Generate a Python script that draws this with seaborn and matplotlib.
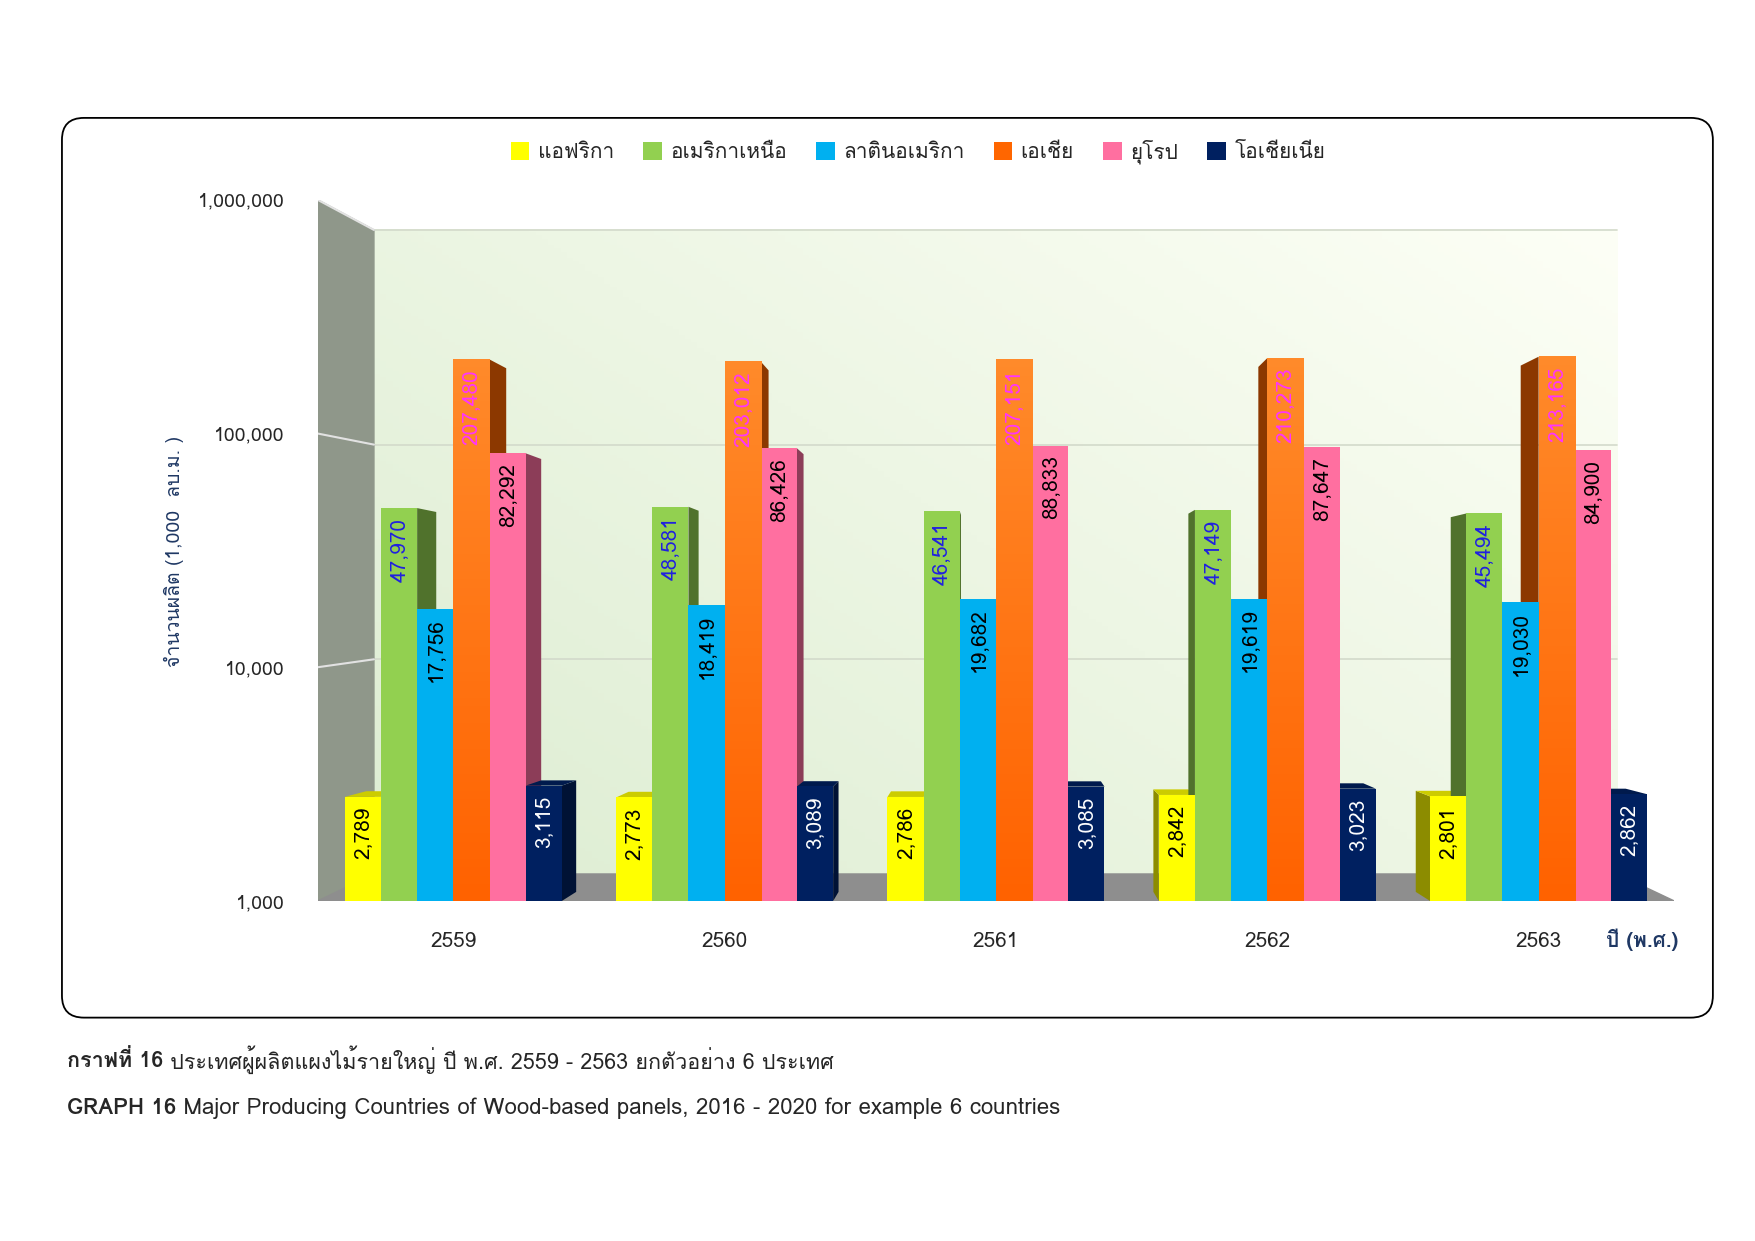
"""Wood-based panel production of six regions, 2559 - 2563 (B.E.), log scale grouped bars."""

import matplotlib

matplotlib.use("Agg")

import matplotlib.pyplot as plt
import numpy as np
import pandas as pd
import seaborn as sns
from matplotlib import font_manager, ft2font
from matplotlib.colors import to_rgb
from matplotlib.patches import FancyBboxPatch, Polygon
from matplotlib.ticker import NullLocator

# --- data -----------------------------------------------------------------
years = ["2559", "2560", "2561", "2562", "2563"]
regions = ["แอฟริกา", "อเมริกาเหนือ", "ลาตินอเมริกา", "เอเชีย", "ยุโรป", "โอเชียเนีย"]
africa = [2789, 2773, 2786, 2842, 2801]
north_america = [47970, 48581, 46541, 47149, 45494]
latin_america = [17756, 18419, 19682, 19619, 19030]
asia = [207480, 203012, 207151, 210273, 213165]
europe = [82292, 86426, 88833, 87647, 84900]
oceania = [3115, 3089, 3085, 3023, 2862]
y_ticks = [1000, 10000, 100000, 1000000]

region_colors = ["#FFFF00", "#92D050", "#00B0F0", "#FF6600", "#FF6FA0", "#002060"]
label_colors = ["black", "#2020E0", "black", "#FF33FF", "black", "white"]
navy = "#1F3864"


def find_thai_font():
    """Return the name of an installed font that has Thai glyphs, if any."""
    for entry in font_manager.fontManager.ttflist:
        try:
            if 0x0E01 in ft2font.FT2Font(entry.fname).get_charmap():
                return entry.name
        except Exception:
            continue
    return None


sns.set_style("white")
thai = find_thai_font()
families = [thai, "DejaVu Sans"] if thai else ["DejaVu Sans"]
plt.rcParams["font.family"] = families

series = [africa, north_america, latin_america, asia, europe, oceania]
df = pd.DataFrame(
    [{"year": y, "region": r, "value": v} for r, vals in zip(regions, series) for y, v in zip(years, vals)]
)

fig = plt.figure(figsize=(17.55, 12.41), dpi=100)
rect = [0.181, 0.274, 0.773, 0.565]

# background "3D" walls drawn on their own axes behind the bars
bg = fig.add_axes(rect, zorder=0)
bg.set_xlim(0, 1)
bg.set_ylim(0, 1)
bg.axis("off")
wx, bx, bb, bt = 0.0415, 0.958, 0.0385, 0.957
gx = np.linspace(0, 1, 200)
gy = np.linspace(0, 1, 200)
gxx, gyy = np.meshgrid(gx, gy)
t = np.clip((gxx * 0.8 + gyy * 0.6) / 1.4, 0, 1)[..., None]
c0 = np.array(to_rgb("#DDEDD2"))
c1 = np.array(to_rgb("#FDFFF6"))
bg.imshow(c0 * (1 - t) + c1 * t, extent=(wx, bx, bb, bt), origin="lower", aspect="auto", zorder=0)
bg.add_patch(Polygon([(0, 0), (0, 1), (wx, bt), (wx, bb)], color="#8F978A", zorder=1))
bg.add_patch(Polygon([(0, 0), (wx, bb), (bx, bb), (1, 0)], color="#8E8E8E", zorder=1))
for frac in (1 / 3, 2 / 3, 1.0):
    yb = bb + frac * (bt - bb)
    bg.plot([wx, bx], [yb, yb], color="#D3DACB", lw=1.2, zorder=0.5)
    bg.plot([0, wx], [frac, yb], color="#E2E2E2", lw=1.5, zorder=2)

# main bars
ax = fig.add_axes(rect, zorder=1)
ax.set_facecolor("none")
sns.barplot(
    data=df,
    x="year",
    y="value",
    hue="region",
    hue_order=regions,
    palette=region_colors,
    width=0.8,
    saturation=1,
    linewidth=0,
    ax=ax,
)
ax.set_yscale("log")
handles, labels = ax.get_legend_handles_labels()
ax.get_legend().remove()
sns.despine(ax=ax, left=True, bottom=True)

ax.set_yticks(y_ticks)
ax.set_yticklabels([f"{v:,}" for v in y_ticks])
ax.yaxis.set_minor_locator(NullLocator())
ax.tick_params(axis="y", length=0, pad=24, labelsize=14)
ax.tick_params(axis="x", length=0, pad=22, labelsize=15)
ax.set_xlabel("")
ax.set_ylabel("")
ax.set_ylim(1000, 1000000)
ax.set_xlim(-0.5, 4.5)

# side / top faces to mimic the 3D look
vx, vy = ax.transData.transform((2, 15000))
f = 0.033
to_axes = ax.transAxes.inverted()
orange_ramp = np.linspace(np.array(to_rgb("#FF6200")), np.array(to_rgb("#FF8A2A")), 64)[:, None, :]
for k, container in enumerate(ax.containers):
    base = np.array(to_rgb(region_colors[k]))
    for bar in container:
        bar.set_zorder(3)
        x0 = bar.get_x()
        x1 = x0 + bar.get_width()
        h = bar.get_height()
        (dx0, dyb), (dx1, dyt) = ax.transData.transform([(x0, 1000), (x1, h)])
        edge = dx1 if (dx0 + dx1) / 2 < vx else dx0

        def back(px, py):
            return px + f * (vx - px), py + f * (vy - py)

        side = [(edge, dyb), (edge, dyt), back(edge, dyt), back(edge, dyb)]
        ax.add_patch(Polygon(to_axes.transform(side), transform=ax.transAxes,
                             color=base * 0.55, zorder=2, lw=0))
        if dyt < vy:
            top = [(dx0, dyt), (dx1, dyt), back(dx1, dyt), back(dx0, dyt)]
            ax.add_patch(Polygon(to_axes.transform(top), transform=ax.transAxes,
                                 color=base * 0.8, zorder=2, lw=0))
        if k == 3:
            # orange bars are shaded lighter toward the top
            bar_box = to_axes.transform([(dx0, dyb), (dx1, dyt)])
            img = ax.imshow(orange_ramp, extent=(bar_box[0][0], bar_box[1][0], bar_box[0][1], bar_box[1][1]),
                            transform=ax.transAxes, origin="lower", aspect="auto", zorder=3.1)
        ax.annotate(
            f"{h:,.0f}",
            xy=(bar.get_x() + bar.get_width() / 2, h),
            xytext=(0, -7),
            textcoords="offset points",
            rotation=90,
            ha="center",
            va="top",
            fontsize=15,
            color=label_colors[k],
            zorder=4,
        )
ax.set_ylim(1000, 1000000)
ax.set_xlim(-0.5, 4.5)

fig.legend(
    handles,
    labels,
    loc="center",
    bbox_to_anchor=(0.523, 0.878),
    ncol=6,
    frameon=False,
    fontsize=15,
    handlelength=0.9,
    handleheight=0.9,
    handletextpad=0.4,
    columnspacing=1.4,
)

fig.text(0.099, 0.556, "จำนวนผลิต (1,000  ลบ.ม. )", rotation=90, ha="center", va="center",
         fontsize=14, color=navy)
fig.text(0.936, 0.243, "ปี (พ.ศ.)", ha="center", va="center", fontsize=15, color=navy, weight="bold")

# rounded frame around the chart
fig.patches.append(
    FancyBboxPatch(
        (0.0353, 0.180),
        0.9407,
        0.725,
        boxstyle="round,pad=0,rounding_size=0.0125",
        mutation_aspect=1755 / 1241,
        transform=fig.transFigure,
        fill=False,
        ec="black",
        lw=1.3,
    )
)

# captions: bold lead-in followed by regular text
renderer = fig.canvas.get_renderer()
for y, size, lead, rest in [
    (0.146, 15.5, "กราฟที่ 16", " ประเทศผู้ผลิตแผงไม้รายใหญ่ ปี พ.ศ. 2559 - 2563 ยกตัวอย่าง 6 ประเทศ"),
    (0.107, 16, "GRAPH 16", " Major Producing Countries of Wood-based panels, 2016 - 2020 for example 6 countries"),
]:
    t1 = fig.text(0.038, y, lead, fontsize=size, weight="bold", va="center")
    x_end = fig.transFigure.inverted().transform(t1.get_window_extent(renderer))[1][0]
    fig.text(x_end, y, rest, fontsize=size, va="center")

fig.savefig("out.png", dpi=100, facecolor="white")
